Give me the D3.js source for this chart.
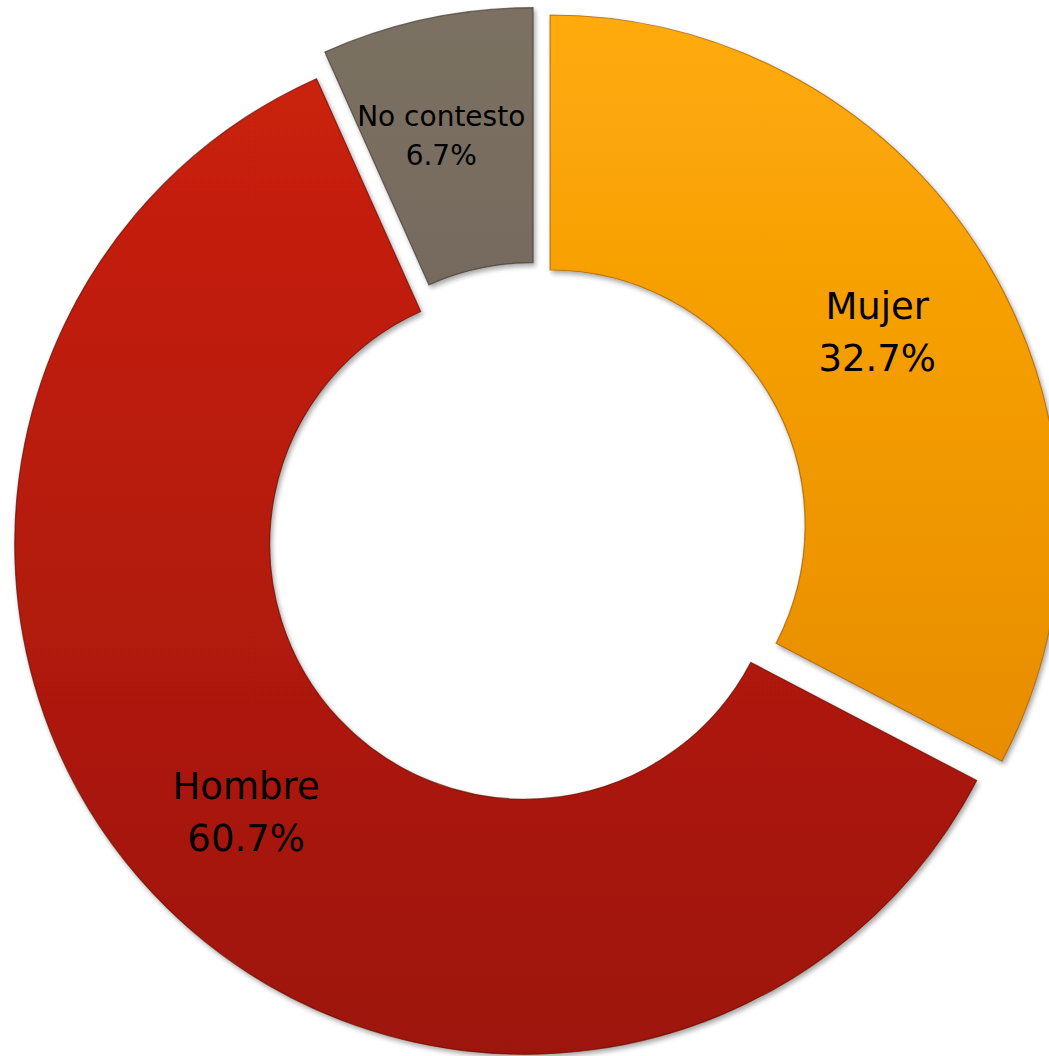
<!DOCTYPE html>
<html>
<head>
<meta charset="utf-8">
<script src="https://cdn.jsdelivr.net/npm/d3@7"></script>
<style>
  html, body { margin: 0; padding: 0; background: #ffffff; overflow: hidden; }
  svg { display: block; }
</style>
</head>
<body>
<div id="chart"></div>
<script>
// ---- data ----
const categories = ["Mujer", "Hombre", "No contesto"];
const values = [32.7, 60.7, 6.7];
const valueLabels = ["32.7%", "60.7%", "6.7%"];
const topColors = ["#FFAB08", "#CC210F", "#7B7062"];
const bottomColors = ["#DF8200", "#9D1507", "#675D51"];
const edgeColors = ["#A05C00", "#6A0D04", "#423B33"];

// ---- layout ----
const W = 1049, H = 1056;
const cx = 536.4, cy = 533.3;
const outerR = 510, innerR = 255;
const explode = 16;

const svg = d3.select("#chart").append("svg")
  .attr("width", W).attr("height", H)
  .attr("viewBox", `0 0 ${W} ${H}`);

const defs = svg.append("defs");

const shadow = defs.append("filter").attr("id", "shadow")
  .attr("x", "-10%").attr("y", "-10%").attr("width", "120%").attr("height", "120%");
shadow.append("feGaussianBlur").attr("in", "SourceAlpha").attr("stdDeviation", 2.5).attr("result", "b");
shadow.append("feOffset").attr("in", "b").attr("dx", 2).attr("dy", 3).attr("result", "o");
shadow.append("feComponentTransfer").attr("in", "o").attr("result", "s")
  .append("feFuncA").attr("type", "linear").attr("slope", 0.35);
const merge = shadow.append("feMerge");
merge.append("feMergeNode").attr("in", "s");
merge.append("feMergeNode").attr("in", "SourceGraphic");

const pie = d3.pie().sort(null).value(d => d).startAngle(0).endAngle(2 * Math.PI);
const arcs = pie(values);
const arcGen = d3.arc().innerRadius(innerR).outerRadius(outerR);

arcs.forEach((a, i) => {
  const mid = (a.startAngle + a.endAngle) / 2;
  a.ox = cx + explode * Math.sin(mid);
  a.oy = cy - explode * Math.cos(mid);
  // gradient in the slice's local (translated) coordinate system
  const g = defs.append("linearGradient").attr("id", "grad" + i)
    .attr("gradientUnits", "userSpaceOnUse")
    .attr("x1", 0).attr("x2", 0)
    .attr("y1", -outerR).attr("y2", outerR);
  g.append("stop").attr("offset", "0%").attr("stop-color", topColors[i]);
  g.append("stop").attr("offset", "100%").attr("stop-color", bottomColors[i]);
});

const slices = svg.append("g").attr("class", "slices");
arcs.forEach((a, i) => {
  slices.append("g")
    .attr("transform", `translate(${a.ox},${a.oy})`)
    .attr("filter", "url(#shadow)")
    .append("path")
    .attr("d", arcGen(a))
    .attr("fill", `url(#grad${i})`)
    .attr("stroke", edgeColors[i])
    .attr("stroke-opacity", 0.7)
    .attr("stroke-width", 1.2);
});

// ---- labels ----
const labels = svg.append("g").attr("class", "labels")
  .attr("font-family", "'DejaVu Sans', Verdana, sans-serif")
  .attr("fill", "#000000")
  .attr("text-anchor", "middle");

arcs.forEach((a, i) => {
  const [lx, ly] = arcGen.centroid(a);
  const small = values[i] < 10;
  const fs = small ? 28 : 37;
  const gap = small ? 39 : 52;
  const nudgeX = small ? -12 : 0;
  const nudgeY = small ? -12 : 0;
  const x = a.ox + lx + nudgeX;
  const yc = a.oy + ly + nudgeY;
  const t = labels.append("text").attr("font-size", fs);
  t.append("tspan").attr("x", x).attr("y", yc - fs * 0.2).text(categories[i]);
  t.append("tspan").attr("x", x).attr("y", yc - fs * 0.2 + gap).text(valueLabels[i]);
});
</script>
</body>
</html>
